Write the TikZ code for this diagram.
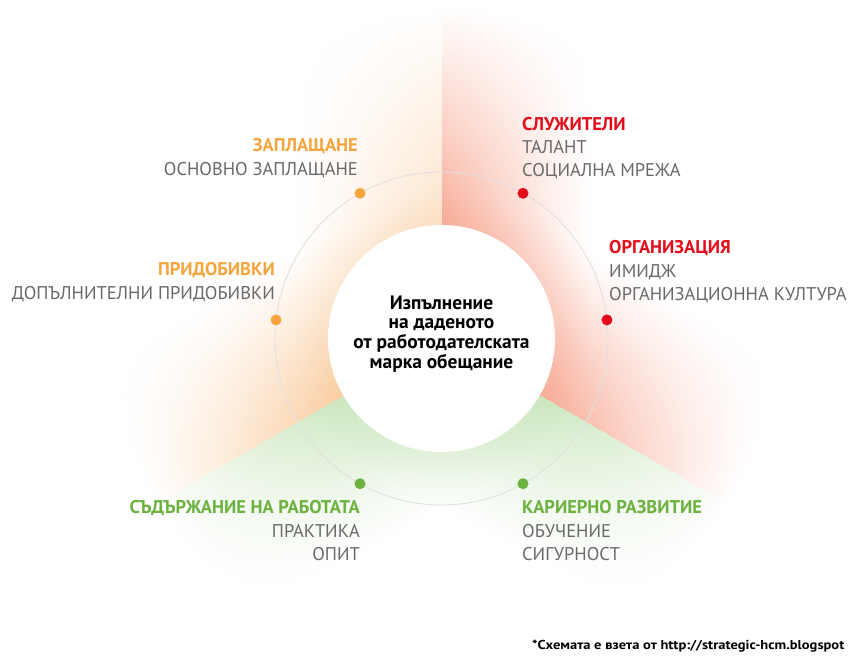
\documentclass[tikz,border=0pt]{standalone}
\usepackage{fontspec}
\newfontfamily\lbl{PT Sans}[Script=Cyrillic,Language=Bulgarian]
\newfontfamily\footfont{PT Sans}[FakeStretch=1.12]
\definecolor{redT}{RGB}{227,12,26}
\definecolor{orangeT}{RGB}{244,165,62}
\definecolor{greenT}{RGB}{108,178,64}
\definecolor{grayT}{RGB}{105,105,105}
\definecolor{ringC}{RGB}{224,224,224}
% background glow: colour depends on sector, distance to the sector edges and radius
\pgfdeclarefunctionalshading{glow}{\pgfpoint{0bp}{0bp}}{\pgfpoint{851bp}{656bp}}{}{
  exch 441.5003 sub exch 317.5003 sub
  2 copy dup mul exch dup mul add sqrt
  3 1 roll exch atan
  30 add dup 360 ge {360 sub} if
  dup 120 lt {0} {dup 240 lt {1} {2} ifelse} ifelse
  exch 1 index 120 mul sub
  dup dup 90 gt {pop 90} if sin 3 index mul 150 div 1 exch sub dup 0 lt {pop 0} if
  2 index 1 eq {0.55 mul} if
  exch 120 exch sub
  dup 90 gt {pop 90} if sin 3 index mul 150 div 1 exch sub dup 0 lt {pop 0} if
  1 exch sub exch 1 exch sub mul 1 exch sub
  3 -1 roll
  332 exch sub 212 div dup 1 gt {pop 1} if dup 0 lt {pop 0} if
  mul
  exch
  dup 0 eq {pop 0.03 0.32 0.40} {1 eq {0.022 0.19 0.36} {0.20 0.095 0.25} ifelse} ifelse
  4 -1 roll
  3 index 1 index mul 1 exch sub
  3 index 2 index mul 1 exch sub
  3 index 3 index mul 1 exch sub
  7 3 roll pop pop pop pop
}
\tikzset{
  ttl/.style={font=\lbl\bfseries\fontsize{18.5}{18.5}\selectfont, inner sep=0pt},
  sub/.style={font=\lbl\fontsize{18.5}{18.5}\selectfont, text=grayT, inner sep=0pt},
  dot/.style={circle, inner sep=0pt, minimum size=11bp},
}
\begin{document}
\begin{tikzpicture}[x=1bp,y=1bp]
\useasboundingbox (0,0) rectangle (851,656);
\node[inner sep=0pt, anchor=south west] (bg) at (0,0) {\pgfuseshading{glow}};
\coordinate (C) at (441.5,317.5);
% rings
\draw[ringC, line width=0.9bp] (C) circle (166.5bp);
\fill[white] (C) circle (113.5bp);
% dots
\node[dot, fill=orangeT] (dOa) at ([shift={(119.3:166.5bp)}]C) {};
\node[dot, fill=orangeT] (dOb) at ([shift={(173.6:166.5bp)}]C) {};
\node[dot, fill=redT] (dRa) at ([shift={(60.7:166.5bp)}]C) {};
\node[dot, fill=redT] (dRb) at ([shift={(6.4:166.5bp)}]C) {};
\node[dot, fill=greenT] (dGa) at ([shift={(240.7:166.5bp)}]C) {};
\node[dot, fill=greenT] (dGb) at ([shift={(-60.7:166.5bp)}]C) {};
% centre text
\node[align=center, inner sep=0pt, font=\lbl\bfseries\fontsize{19.5}{19.8}\selectfont] (ctext) at (441.5,322) {Изпълнение\\на даденото\\от работодателската\\марка обещание};
% orange top
\node[ttl, text=orangeT, anchor=base east] (oa1) at (358,504) {ЗАПЛАЩАНЕ};
\node[sub, anchor=base east] (oa2) at (358,480) {ОСНОВНО ЗАПЛАЩАНЕ};
% orange left
\node[ttl, text=orangeT, anchor=base east] (ob1) at (275,380) {ПРИДОБИВКИ};
\node[sub, anchor=base east] (ob2) at (275,356) {ДОПЪЛНИТЕЛНИ ПРИДОБИВКИ};
% red top
\node[ttl, text=redT, anchor=base west] (ra1) at (522,525) {СЛУЖИТЕЛИ};
\node[sub, anchor=base west] (ra2) at (522,502) {ТАЛАНТ};
\node[sub, anchor=base west] (ra3) at (522,479) {СОЦИАЛНА МРЕЖА};
% red right
\node[ttl, text=redT, anchor=base west] (rb1) at (609,402) {ОРГАНИЗАЦИЯ};
\node[sub, anchor=base west] (rb2) at (609,378) {ИМИДЖ};
\node[sub, anchor=base west] (rb3) at (609,355) {ОРГАНИЗАЦИОННА КУЛТУРА};
% green left
\node[ttl, text=greenT, anchor=base east] (ga1) at (360,142) {СЪДЪРЖАНИЕ НА РАБОТАТА};
\node[sub, anchor=base east] (ga2) at (360,118) {ПРАКТИКА};
\node[sub, anchor=base east] (ga3) at (360,95) {ОПИТ};
% green right
\node[ttl, text=greenT, anchor=base west] (gb1) at (522,142) {КАРИЕРНО РАЗВИТИЕ};
\node[sub, anchor=base west] (gb2) at (522,118) {ОБУЧЕНИЕ};
\node[sub, anchor=base west] (gb3) at (522,95) {СИГУРНОСТ};
% footer
\node[anchor=base west, inner sep=0pt, font=\footfont\bfseries\fontsize{13}{13}\selectfont] (foot) at (532,6) {*Схемата е взета от http://strategic-hcm.blogspot};
\end{tikzpicture}
\end{document}
